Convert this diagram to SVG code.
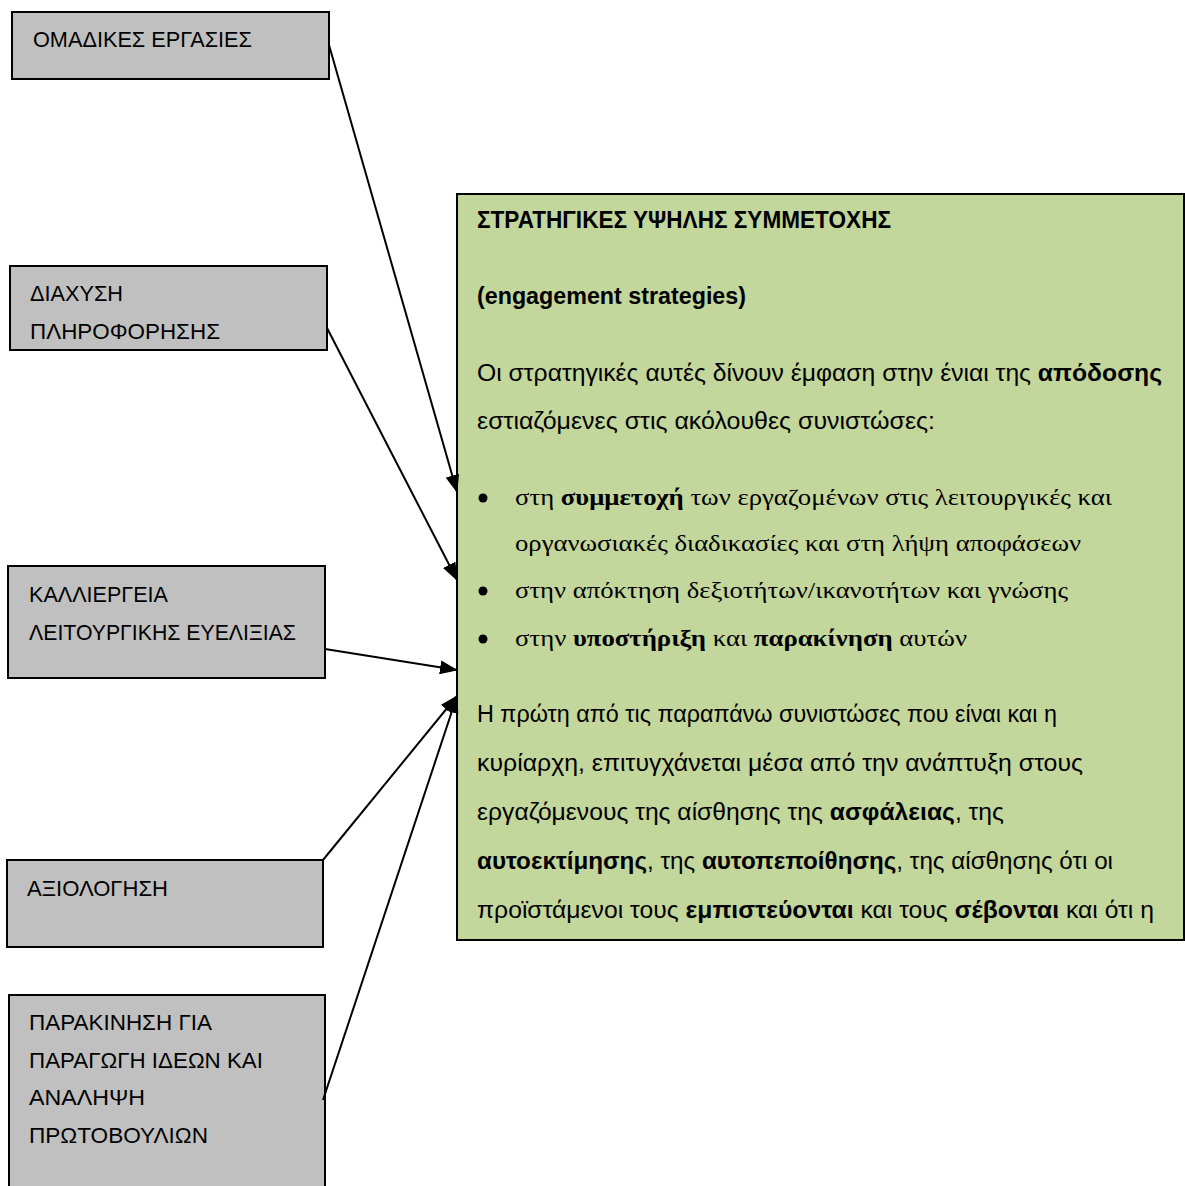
<svg xmlns="http://www.w3.org/2000/svg" width="1185" height="1186" viewBox="0 0 1185 1186">
  <style>
    .box { fill: #c0c0c0; stroke: #000; stroke-width: 2; }
    .main { fill: #c3d69b; stroke: #000; stroke-width: 2; }
    .lbl { font-family: "Liberation Sans", Arial, sans-serif; font-size: 22px; fill: #000; }
    .sans { font-family: "Liberation Sans", Arial, sans-serif; font-size: 23.5px; fill: #000; }
    .serif { font-family: "Liberation Serif", "Times New Roman", serif; font-size: 24px; fill: #000; }
    .b { font-weight: bold; }
    .conn { stroke: #000; stroke-width: 2; fill: none; marker-end: url(#arrow); }
  </style>
  <defs>
    <marker id="arrow" markerUnits="userSpaceOnUse" markerWidth="18" markerHeight="14" refX="17" refY="7" orient="auto">
      <path d="M0,0 L18,7 L0,14 Z" fill="#000"/>
    </marker>
  </defs>
  <rect width="1185" height="1186" fill="#fff"/>

  <g id="node-omadikes">
    <rect class="box" x="12" y="12" width="317" height="67"/>
    <text class="lbl" x="33" y="47" textLength="219" lengthAdjust="spacingAndGlyphs">ΟΜΑΔΙΚΕΣ ΕΡΓΑΣΙΕΣ</text>
  </g>

  <g id="node-diaxysi">
    <rect class="box" x="10" y="266" width="317" height="84"/>
    <text class="lbl" x="30" y="301" textLength="93" lengthAdjust="spacingAndGlyphs">ΔΙΑΧΥΣΗ</text>
    <text class="lbl" x="30" y="339" textLength="190" lengthAdjust="spacingAndGlyphs">ΠΛΗΡΟΦΟΡΗΣΗΣ</text>
  </g>

  <g id="node-kalliergeia">
    <rect class="box" x="8" y="566" width="317" height="112"/>
    <text class="lbl" x="29" y="602" textLength="139" lengthAdjust="spacingAndGlyphs">ΚΑΛΛΙΕΡΓΕΙΑ</text>
    <text class="lbl" x="29" y="640" textLength="267" lengthAdjust="spacingAndGlyphs">ΛΕΙΤΟΥΡΓΙΚΗΣ ΕΥΕΛΙΞΙΑΣ</text>
  </g>

  <g id="node-axiologisi">
    <rect class="box" x="7" y="860" width="316" height="87"/>
    <text class="lbl" x="27" y="896" textLength="141" lengthAdjust="spacingAndGlyphs">ΑΞΙΟΛΟΓΗΣΗ</text>
  </g>

  <g id="node-parakinisi">
    <rect class="box" x="9" y="995" width="316" height="200"/>
    <text class="lbl" x="29" y="1030" textLength="183" lengthAdjust="spacingAndGlyphs">ΠΑΡΑΚΙΝΗΣΗ ΓΙΑ</text>
    <text class="lbl" x="29" y="1068" textLength="234" lengthAdjust="spacingAndGlyphs">ΠΑΡΑΓΩΓΗ ΙΔΕΩΝ ΚΑΙ</text>
    <text class="lbl" x="29" y="1105" textLength="116" lengthAdjust="spacingAndGlyphs">ΑΝΑΛΗΨΗ</text>
    <text class="lbl" x="29" y="1143" textLength="179" lengthAdjust="spacingAndGlyphs">ΠΡΩΤΟΒΟΥΛΙΩΝ</text>
  </g>

  <g id="node-strategies">
    <rect class="main" x="457" y="194" width="727" height="746"/>
    <text class="sans b" x="477" y="228" textLength="414" lengthAdjust="spacingAndGlyphs">ΣΤΡΑΤΗΓΙΚΕΣ ΥΨΗΛΗΣ ΣΥΜΜΕΤΟΧΗΣ</text>
    <text class="sans b" x="477" y="304" textLength="269" lengthAdjust="spacingAndGlyphs">(engagement strategies)</text>
    <text class="sans" x="477" y="381" textLength="685" lengthAdjust="spacingAndGlyphs">Οι στρατηγικές αυτές δίνουν έμφαση στην ένιαι της <tspan class="b">απόδοσης</tspan></text>
    <text class="sans" x="477" y="429" textLength="458" lengthAdjust="spacingAndGlyphs">εστιαζόμενες στις ακόλουθες συνιστώσες:</text>

    <circle cx="483" cy="498" r="4.5" fill="#000"/>
    <circle cx="483" cy="591" r="4.5" fill="#000"/>
    <circle cx="483" cy="639" r="4.5" fill="#000"/>
    <text class="serif" x="515" y="505" textLength="597" lengthAdjust="spacingAndGlyphs">στη <tspan class="b">συμμετοχή</tspan> των εργαζομένων στις λειτουργικές και</text>
    <text class="serif" x="515" y="551" textLength="566" lengthAdjust="spacingAndGlyphs">οργανωσιακές διαδικασίες και στη λήψη αποφάσεων</text>
    <text class="serif" x="515" y="598" textLength="553" lengthAdjust="spacingAndGlyphs">στην απόκτηση δεξιοτήτων/ικανοτήτων και γνώσης</text>
    <text class="serif" x="515" y="646" textLength="452" lengthAdjust="spacingAndGlyphs">στην <tspan class="b">υποστήριξη</tspan> και <tspan class="b">παρακίνηση</tspan> αυτών</text>

    <text class="sans" x="477" y="722" textLength="580" lengthAdjust="spacingAndGlyphs">Η πρώτη από τις παραπάνω συνιστώσες που είναι και η</text>
    <text class="sans" x="477" y="771" textLength="606" lengthAdjust="spacingAndGlyphs">κυρίαρχη, επιτυγχάνεται μέσα από την ανάπτυξη στους</text>
    <text class="sans" x="477" y="820" textLength="527" lengthAdjust="spacingAndGlyphs">εργαζόμενους της αίσθησης της <tspan class="b">ασφάλειας</tspan>, της</text>
    <text class="sans" x="477" y="869" textLength="636" lengthAdjust="spacingAndGlyphs"><tspan class="b">αυτοεκτίμησης</tspan>, της <tspan class="b">αυτοπεποίθησης</tspan>, της αίσθησης ότι οι</text>
    <text class="sans" x="477" y="918" textLength="677" lengthAdjust="spacingAndGlyphs">προϊστάμενοι τους <tspan class="b">εμπιστεύονται</tspan> και τους <tspan class="b">σέβονται</tspan> και ότι η</text>
  </g>

  <g id="connectors">
    <line class="conn" x1="329" y1="45" x2="457" y2="492"/>
    <line class="conn" x1="327" y1="328" x2="457" y2="580"/>
    <line class="conn" x1="325" y1="649" x2="457" y2="670"/>
    <line class="conn" x1="323" y1="860" x2="457" y2="696"/>
    <line class="conn" x1="323" y1="1100" x2="457" y2="696"/>
  </g>
</svg>
